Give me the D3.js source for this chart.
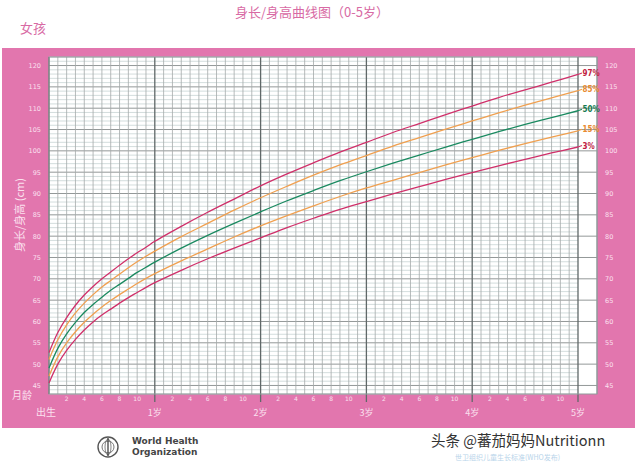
<!DOCTYPE html>
<html><head><meta charset="utf-8">
<script src="https://cdn.jsdelivr.net/npm/d3@7"></script>
<style>body{margin:0;background:#fff}svg{display:block}</style>
</head><body>
<svg id="c" width="640" height="463"></svg>
<script>
// ---- data (WHO girls length/height-for-age) ----
const months = [0,1,2,3,4,5,6,7,8,9,10,11,12,15,18,21,24,27,30,33,36,39,42,45,48,51,54,57,60];
const p3  = [45.6,50.0,53.2,55.8,58.0,59.9,61.5,62.9,64.3,65.6,66.8,68.0,69.1,72.0,74.7,77.2,79.6,82.0,84.2,86.3,88.1,89.9,91.6,93.3,94.9,96.5,98.0,99.5,100.9];
const p15 = [47.2,51.7,55.0,57.6,59.8,61.7,63.4,64.9,66.3,67.6,68.9,70.1,71.2,74.2,77.0,79.8,82.4,84.8,87.1,89.3,91.3,93.1,94.9,96.7,98.4,100.1,101.7,103.2,104.7];
const p50 = [49.1,53.7,57.1,59.8,62.1,64.0,65.7,67.3,68.7,70.1,71.5,72.7,73.9,77.2,80.2,83.0,85.7,88.3,90.7,93.0,95.1,97.1,99.0,100.9,102.7,104.5,106.2,107.8,109.4];
const p85 = [51.1,55.7,59.2,62.0,64.3,66.3,68.1,69.6,71.1,72.6,74.0,75.3,76.5,79.9,83.0,86.1,89.0,91.7,94.3,96.7,98.9,101.1,103.1,105.1,107.0,108.9,110.7,112.4,114.1];
const p97 = [52.7,57.4,60.9,63.8,66.2,68.2,70.0,71.6,73.2,74.7,76.1,77.4,78.8,82.3,85.6,88.7,91.8,94.6,97.2,99.7,102.0,104.3,106.4,108.5,110.5,112.5,114.3,116.1,117.9];
const seriesNames = ["97%","85%","50%","15%","3%"];
const yTicks = [45,50,55,60,65,70,75,80,85,90,95,100,105,110,115,120];
const monthTickLabels = [2,4,6,8,10];
const yearLabels = ["出生","1岁","2岁","3岁","4岁","5岁"];

const seriesData = [p97,p85,p50,p15,p3];
const lineColors = ["#d0306a","#f0a050","#1a8a60","#f0a050","#d0306a"];
const labelColors = ["#c02040","#e88a30","#157a50","#e88a30","#c02040"];

const svg = d3.select("#c");
const pink = "#e276ae";
const txt = "#fbe0ee";
const cjk = "'Noto Sans CJK SC','Noto Sans',sans-serif";

// titles
svg.append("text").attr("x",312).attr("y",17).attr("text-anchor","middle")
  .attr("font-family",cjk).attr("font-size",13).attr("fill","#d86aa4").text("身长/身高曲线图（0-5岁）");
svg.append("text").attr("x",20).attr("y",33)
  .attr("font-family",cjk).attr("font-size",13).attr("fill","#d86aa4").text("女孩");

// pink panel
svg.append("rect").attr("x",2).attr("y",48).attr("width",633).attr("height",380).attr("fill",pink);

const x = d3.scaleLinear().domain([0,60]).range([49,578]);
const y = d3.scaleLinear().domain([43,122]).range([394,57]);

// white plot area
svg.append("rect").attr("x",x(0)).attr("y",y(122)).attr("width",597-x(0)).attr("height",y(43)-y(122)).attr("fill","#fff");

const g = svg.append("g");
// horizontal grid lines every cm
d3.range(43,123).forEach(v=>{
  const major = v%5===0;
  g.append("line").attr("x1",x(0)).attr("x2",major?597:x(60))
    .attr("y1",y(v)).attr("y2",y(v))
    .attr("stroke",major?"#939898":"#c8d4d4").attr("stroke-width",major?1:0.8);
});
// vertical grid lines every month
d3.range(0,61).forEach(m=>{
  const yr = m%12===0;
  g.append("line").attr("x1",x(m)).attr("x2",x(m))
    .attr("y1",y(122)).attr("y2",yr&&m>0?y(43)+8:y(43))
    .attr("stroke",yr?"#606868":"#a4aaaa").attr("stroke-width",yr?1.3:0.8);
});
g.append("line").attr("x1",597).attr("x2",597).attr("y1",y(122)).attr("y2",y(43)).attr("stroke","#8f9a9a");
g.append("rect").attr("x",x(0)).attr("y",y(122)).attr("width",597-x(0)).attr("height",y(43)-y(122))
  .attr("fill","none").attr("stroke","#8f9a9a");

// curves
const line = d3.line().x((d,i)=>x(months[i])).y(d=>y(d)).curve(d3.curveCatmullRom.alpha(0.5));
seriesData.forEach((s,k)=>{
  svg.append("path").attr("d",line(s)).attr("fill","none")
    .attr("stroke",lineColors[k]).attr("stroke-width",1.3);
  const last = s[s.length-1];
  const ly = y(last) - 1.5;
  svg.append("line").attr("x1",x(60)).attr("x2",x(60)+4).attr("y1",y(last)).attr("y2",ly)
    .attr("stroke",lineColors[k]).attr("stroke-width",1.2);
  svg.append("text").attr("x",x(60)+4.5).attr("y",ly+3).attr("font-family","'DejaVu Sans Condensed','DejaVu Sans',sans-serif")
    .attr("font-size",8).attr("font-weight","bold").attr("fill",labelColors[k]).text(seriesNames[k]);
});

// y tick labels (left and right)
yTicks.forEach(v=>{
  svg.append("text").attr("x",41).attr("y",y(v)+2.5).attr("text-anchor","end")
    .attr("font-family","'DejaVu Sans',sans-serif").attr("font-size",6.5).attr("fill",txt).text(v);
  svg.append("text").attr("x",605).attr("y",y(v)+2.5)
    .attr("font-family","'DejaVu Sans',sans-serif").attr("font-size",6.5).attr("fill",txt).text(v);
});

// y-axis title
svg.append("text").attr("transform","translate(24,215) rotate(-90)").attr("text-anchor","middle")
  .attr("font-family",cjk).attr("font-size",11).attr("fill",txt).text("身长/身高 (cm)");

// month tick labels
for(let yr=0; yr<5; yr++){
  monthTickLabels.forEach(m=>{
    svg.append("text").attr("x",x(yr*12+m)).attr("y",401).attr("text-anchor","middle")
      .attr("font-family","'DejaVu Sans',sans-serif").attr("font-size",6).attr("fill",txt).text(m);
  });
}
svg.append("text").attr("x",12).attr("y",399).attr("font-family",cjk).attr("font-size",10).attr("fill",txt).text("月龄");
yearLabels.forEach((t,i)=>{
  svg.append("text").attr("x",i===0?46:x(i*12)).attr("y",416).attr("text-anchor","middle")
    .attr("font-family",cjk).attr("font-size",i===0?10:9).attr("fill",txt).text(t);
});

// footer: WHO logo + watermark
const logo = svg.append("g").attr("transform","translate(108,447)");
logo.append("circle").attr("r",10).attr("fill","none").attr("stroke","#555").attr("stroke-width",1.4);
logo.append("circle").attr("r",6).attr("fill","none").attr("stroke","#777").attr("stroke-width",1);
logo.append("ellipse").attr("rx",3).attr("ry",8).attr("fill","none").attr("stroke","#666").attr("stroke-width",0.8);
logo.append("line").attr("x1",0).attr("x2",0).attr("y1",-9).attr("y2",9).attr("stroke","#333").attr("stroke-width",1.2);
svg.append("text").attr("x",132).attr("y",444).attr("font-family","'DejaVu Sans',sans-serif").attr("font-weight","bold")
  .attr("font-size",9).attr("fill","#444").text("World Health");
svg.append("text").attr("x",132).attr("y",455).attr("font-family","'DejaVu Sans',sans-serif").attr("font-weight","bold")
  .attr("font-size",9).attr("fill","#444").text("Organization");
svg.append("text").attr("x",431).attr("y",446).attr("font-family",cjk).attr("font-size",14.5).attr("fill","#333").text("头条 @蕃茄妈妈Nutritionn");
svg.append("text").attr("x",455).attr("y",460).attr("font-family",cjk).attr("font-size",7).attr("fill","#b8d4ea").text("世卫组织儿童生长标准(WHO发布)");
</script>
</body></html>
